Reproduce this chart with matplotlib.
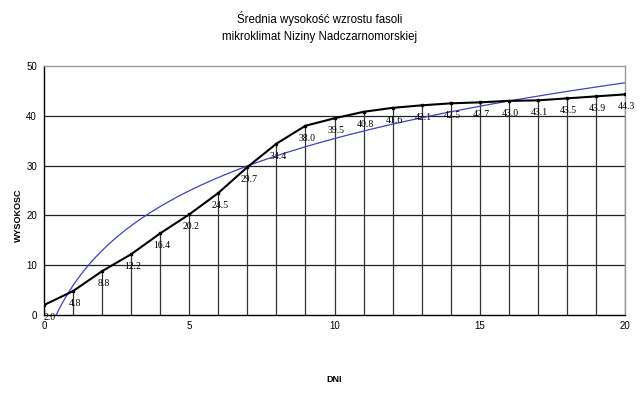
import numpy as np
import matplotlib
matplotlib.use("Agg")
import matplotlib.pyplot as plt

days = list(range(0, 21))
heights = [2.0, 4.8, 8.8, 12.2, 16.4, 20.2, 24.5, 29.7, 34.4, 38.0, 39.5,
           40.8, 41.6, 42.1, 42.5, 42.7, 43.0, 43.1, 43.5, 43.9, 44.3]
title = "Średnia wysokość wzrostu fasoli\nmikroklimat Niziny Nadczarnomorskiej"
xlabel = "DNI"
ylabel = "WYSOKOSC"
xticks = [0, 5, 10, 15, 20]
yticks = [0, 10, 20, 30, 40, 50]

x = np.array(days, dtype=float)
y = np.array(heights)

# logarithmic trendline (Excel style, on point index 1..n)
a, b = np.polyfit(np.log(x + 1), y, 1)
xt = np.linspace(0, 20, 400)
yt = a * np.log(xt + 1) + b

fig = plt.figure(figsize=(6.4, 3.98), dpi=100)
ax = fig.add_axes([44 / 640, 1 - 315 / 398, (625 - 44) / 640, (315 - 66) / 398])

ax.set_xlim(0, 20)
ax.set_ylim(0, 50)

for v in yticks[1:-1]:
    ax.axhline(v, color="#222222", lw=0.9, zorder=1)

ax.vlines(x, 0, y, color="#333333", lw=0.9, zorder=1)

ax.plot(xt, yt, color="#4040c8", lw=0.9, zorder=2)
ax.plot(x, y, color="black", lw=1.5, marker="s", ms=1.6, zorder=3)

for i, (xi, yi) in enumerate(zip(x, y)):
    dx = 4 if i == 0 else 1
    ax.annotate(f"{yi:.1f}", (xi, yi), xytext=(dx, -9), textcoords="offset points",
                ha="center", va="center", fontsize=7, family="Liberation Serif",
                annotation_clip=False, zorder=4)

ax.set_xticks(xticks)
ax.set_yticks(yticks)
ax.tick_params(axis="x", length=0, labelsize=7, pad=4)
ax.tick_params(axis="y", length=0, labelsize=7, pad=5)
for lab in ax.get_xticklabels() + ax.get_yticklabels():
    lab.set_family("Liberation Sans")

for s in ["left", "bottom"]:
    ax.spines[s].set_color("black")
    ax.spines[s].set_linewidth(1.0)
for s in ["top", "right"]:
    ax.spines[s].set_color("#999999")
    ax.spines[s].set_linewidth(1.0)

fig.text(0.5, 1 - 27 / 398, title, ha="center", va="center", fontsize=8.3,
         family="Liberation Sans", linespacing=1.55)
fig.text(334 / 640, 1 - 380 / 398, xlabel, ha="center", va="center", fontsize=6.5,
         family="Liberation Sans", fontweight="bold")
fig.text(18 / 640, 1 - 215 / 398, ylabel, ha="center", va="center", fontsize=6.5,
         family="Liberation Sans", fontweight="bold", rotation=90)

fig.savefig("out.png", dpi=100)
